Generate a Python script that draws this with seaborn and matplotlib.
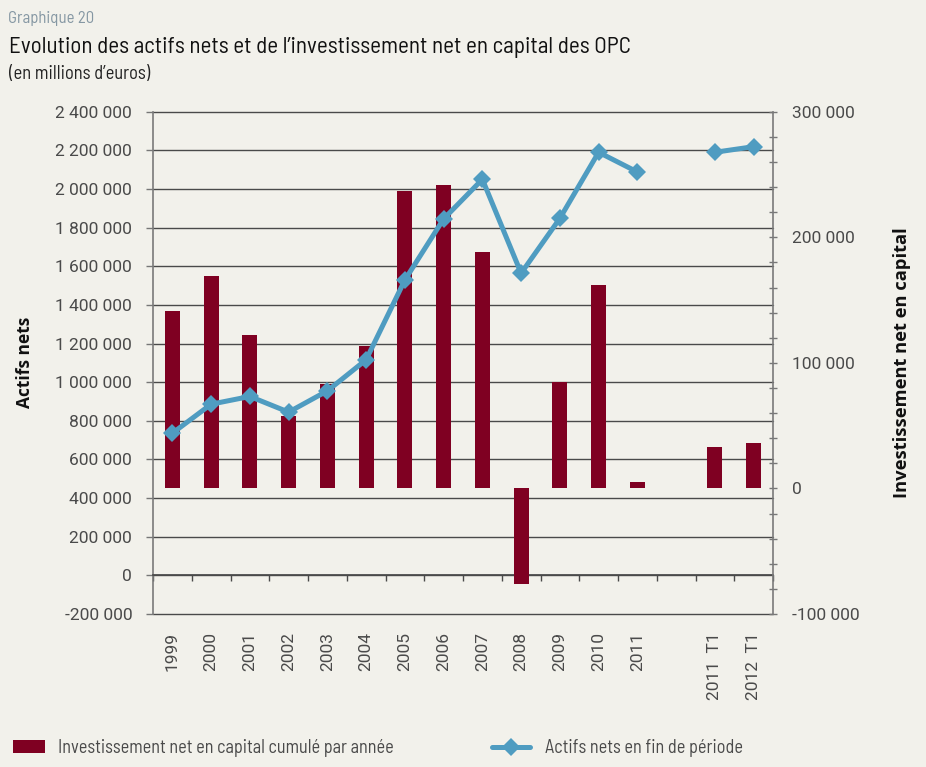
import numpy as np
import pandas as pd
import matplotlib
matplotlib.use("Agg")
import matplotlib.pyplot as plt
import seaborn as sns
from matplotlib.ticker import FixedLocator, FuncFormatter, MultipleLocator, NullFormatter
from matplotlib.patches import Patch
from matplotlib.lines import Line2D

# ---------------- data ----------------
categories = ["1999", "2000", "2001", "2002", "2003", "2004", "2005", "2006",
              "2007", "2008", "2009", "2010", "2011", "", "2011  T1", "2012  T1"]
invest_net = [141400, 169000, 122000, 57800, 83300, 113300, 237000, 242000,
              188000, -76400, 85000, 162000, 5000, np.nan, 33000, 36400]
actifs_nets = [736000, 886000, 926000, 845000, 955000, 1116000, 1529000, 1845000,
               2050000, 1564000, 1848000, 2190000, 2088000, np.nan, 2190000, 2219000]
left_ticks = list(range(-200000, 2400001, 200000))
right_ticks = [-100000, 0, 100000, 200000, 300000]

title_small = "Graphique 20"
title = "Evolution des actifs nets et de l\u2019investissement net en capital des OPC"
subtitle = "(en millions d\u2019euros)"
left_label = "Actifs nets"
right_label = "Investissement net en capital"
legend_bar = "Investissement net en capital cumulé par année"
legend_line = "Actifs nets en fin de période"

# ---------------- style ----------------
BG = "#f2f1eb"
BAR = "#7f0022"
LINE = "#4f9cc1"
GRID = "#4a4a4a"
TXT = "#4a4a4a"
sns.set_theme(style="white")
COND = ["Barlow Semi Condensed", "Roboto", "DejaVu Sans"]
plt.rcParams["font.family"] = COND
TICKFONT = ["Roboto", "DejaVu Sans"]
BOLDFONT = ["Open Sans", "DejaVu Sans"]

fig = plt.figure(figsize=(9.26, 7.67), dpi=100, facecolor=BG)
renderer = fig.canvas.get_renderer()


def fit_size(s, target_px, base=12.0, **kw):
    """font size (pt) so that the string s is target_px wide"""
    t = fig.text(0, 0, s, fontsize=base, **kw)
    w = t.get_window_extent(renderer=renderer).width
    t.remove()
    return base * target_px / w


x0, x1 = 153 / 926, 773 / 926
y_top, y_bot = 1 - 111.7 / 767, 1 - 614 / 767
ax1 = fig.add_axes([x0, y_bot, x1 - x0, y_top - y_bot])
ax1.set_facecolor(BG)
ax2 = ax1.twinx()
ax3 = ax1.twinx()
ax1.set_zorder(0)
ax2.set_zorder(1)
ax3.set_zorder(2)
ax2.patch.set_visible(False)
ax3.patch.set_visible(False)

df = pd.DataFrame({"cat": categories, "invest": invest_net, "actifs": actifs_nets})
pos = np.arange(len(categories))
df["pos"] = pos

sns.barplot(data=df, x="cat", y="invest", order=categories, color=BAR,
            width=0.39, saturation=1, linewidth=0, ax=ax2, errorbar=None)

valid = df["actifs"].notna().values
seg_id = np.cumsum(~valid)
for sid in np.unique(seg_id[valid]):
    seg = df[valid & (seg_id == sid)]
    sns.lineplot(data=seg, x="pos", y="actifs", ax=ax3, color=LINE, linewidth=3.6,
                 marker="D", markersize=9, markeredgewidth=0, estimator=None,
                 sort=False, legend=False)

ax1.set_ylim(left_ticks[0], left_ticks[-1])
ax3.set_ylim(left_ticks[0], left_ticks[-1])
ax2.set_ylim(right_ticks[0], right_ticks[-1])
ax1.set_xlim(-0.5, len(categories) - 0.5)

fmt = FuncFormatter(lambda v, p: f"{int(round(v)):,}".replace(",", " "))
ax1.yaxis.set_major_locator(FixedLocator(left_ticks))
ax1.yaxis.set_major_formatter(fmt)
for v in left_ticks:
    ax1.axhline(v, color=GRID, linewidth=1.0, zorder=0, clip_on=False)
ax1.grid(False)
ax1.tick_params(axis="y", which="major", direction="out", length=5, width=1,
                color="#777777", pad=10, labelsize=12.5, labelcolor=TXT)
for lab in ax1.get_yticklabels():
    lab.set_family(TICKFONT)

ax1.spines["bottom"].set_position(("data", 0))
ax1.spines["bottom"].set_color(GRID)
ax1.xaxis.set_major_locator(FixedLocator(np.arange(-0.5, len(categories) + 0.5, 1.0)))
ax1.xaxis.set_major_formatter(NullFormatter())
ax1.set_xticks(pos, minor=True)
ax1.set_xticklabels(categories, minor=True, rotation=90, va="top", ha="center",
                    fontsize=12.5, color=TXT)
for lab in ax1.get_xticklabels(minor=True):
    lab.set_family(TICKFONT)
ax1.tick_params(axis="x", which="major", direction="out", length=4, width=1,
                color=GRID, bottom=True)
ax1.tick_params(axis="x", which="minor", length=0, pad=41, bottom=True)
ax1.set_xlabel("")

for s in ["top", "right"]:
    ax1.spines[s].set_visible(False)
ax1.spines["left"].set_color("#7a7a7a")
ax1.spines["left"].set_linewidth(1.2)
ax1.set_ylabel(left_label, fontsize=12.5, fontweight="bold", family=BOLDFONT,
               color="#111111", labelpad=15)

ax2.yaxis.set_major_locator(FixedLocator(right_ticks))
ax2.yaxis.set_minor_locator(MultipleLocator(20000))
ax2.yaxis.set_major_formatter(fmt)
ax2.tick_params(axis="y", which="both", direction="inout", length=6, width=1,
                color="#777777", labelsize=12.5, labelcolor=TXT, pad=11)
for lab in ax2.get_yticklabels():
    lab.set_family(TICKFONT)
for s in ["top", "left", "bottom"]:
    ax2.spines[s].set_visible(False)
ax2.spines["right"].set_color("#7a7a7a")
ax2.spines["right"].set_linewidth(1.2)
ax2.set_ylabel(right_label, fontsize=13.2, fontweight="bold", family=BOLDFONT,
               color="#111111", labelpad=24)
ax2.set_xlabel("")
ax2.grid(False)

ax3.set_yticks([])
ax3.set_ylabel("")
ax3.set_xlabel("")
for s in ax3.spines.values():
    s.set_visible(False)
ax3.grid(False)

# titles, sized to the reference widths (condensed reference face: slightly larger)
fs_small = fit_size(title_small, 77) * 1.12
fs_title = fit_size(title, 621)
fs_sub = fit_size(subtitle, 127) * 1.12
fig.text(8 / 926, 1 - 19 / 767, title_small, fontsize=fs_small,
         color="#8597a3", va="center")
fig.text(9 / 926, 1 - 47 / 767, title, fontsize=fs_title, color="#111111", va="center")
fig.text(9 / 926, 1 - 74 / 767, subtitle, fontsize=fs_sub,
         color="#222222", va="center")

# legends
fs_leg = fit_size(legend_bar, 337)
px_per_unit = fs_leg * 100 / 72
leg1 = fig.legend(handles=[Patch(facecolor=BAR, edgecolor="none")], labels=[legend_bar],
                  loc="center left", bbox_to_anchor=(13 / 926, 1 - 748 / 767),
                  frameon=False, borderpad=0, borderaxespad=0,
                  handlelength=32 / px_per_unit, handleheight=13 / px_per_unit,
                  handletextpad=13 / px_per_unit, fontsize=fs_leg)
for t in leg1.get_texts():
    t.set_color(TXT)
leg2 = fig.legend(handles=[Line2D([0], [0], color=LINE, linewidth=3.6, marker="D",
                                  markersize=9, markeredgewidth=0)],
                  labels=[legend_line], loc="center left",
                  bbox_to_anchor=(492 / 926, 1 - 748 / 767), frameon=False,
                  borderpad=0, borderaxespad=0, handlelength=38 / px_per_unit,
                  handletextpad=15 / px_per_unit, fontsize=fs_leg)
for t in leg2.get_texts():
    t.set_color(TXT)

fig.savefig("out.png", dpi=100, facecolor=BG)
